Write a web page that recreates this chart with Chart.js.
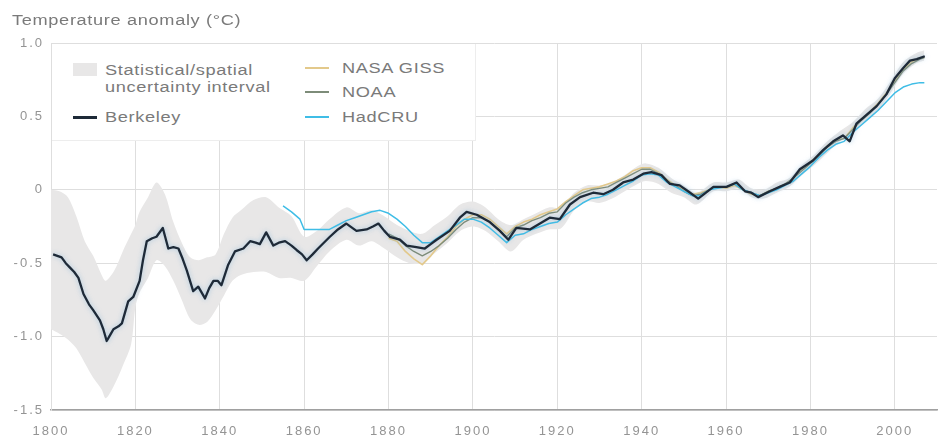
<!DOCTYPE html>
<html>
<head>
<meta charset="utf-8">
<script src="https://cdn.jsdelivr.net/npm/chart.js@4.4.1/dist/chart.umd.min.js"></script>
<style>
  html, body { margin: 0; padding: 0; background: #fff; }
  #wrap { position: relative; width: 946px; height: 438px; font-family: "Liberation Sans", Arial, sans-serif; color: #7a7a7a; }
  #chart { position: absolute; left: 0; top: 0; }
  .txt { position: absolute; white-space: nowrap; font-size: 14px; line-height: 16px; height: 16px;
         letter-spacing: 0.5px; transform: scaleX(1.3); transform-origin: 0 50%; }
  #title { left: 12px; top: 12px; }
  #legend { position: absolute; left: 52px; top: 44px; width: 423px; height: 96px; background: #fff;
            border-right: 1px solid #ededed; border-bottom: 1px solid #ededed; }
  .swatch { position: absolute; }
</style>
</head>
<body>
<div id="wrap">
  <canvas id="chart" width="946" height="438"></canvas>
  <div id="title" class="txt">Temperature anomaly (°C)</div>
  <div id="legend">
    <div class="swatch" style="left:21px;top:19px;width:24px;height:13px;background:#e8e7e7;"></div>
    <div class="txt" style="left:53px;top:18px;">Statistical/spatial</div>
    <div class="txt" style="left:53px;top:35px;">uncertainty interval</div>
    <div class="swatch" style="left:21px;top:72px;width:24px;height:2.5px;background:#1e2a38;"></div>
    <div class="txt" style="left:53px;top:65px;">Berkeley</div>
    <div class="swatch" style="left:253px;top:23px;width:24px;height:1.5px;background:#e3c98b;"></div>
    <div class="txt" style="left:290px;top:16px;">NASA GISS</div>
    <div class="swatch" style="left:253px;top:47px;width:24px;height:1.5px;background:#7d8c79;"></div>
    <div class="txt" style="left:290px;top:40px;">NOAA</div>
    <div class="swatch" style="left:253px;top:72px;width:24px;height:1.5px;background:#3fbde6;"></div>
    <div class="txt" style="left:290px;top:65px;">HadCRU</div>
  </div>
</div>
<script>
// Axis ticks
const yearTicks = [1800, 1820, 1840, 1860, 1880, 1900, 1920, 1940, 1960, 1980, 2000];
const tempTicks = [-1.5, -1.0, -0.5, 0, 0.5, 1.0];

// Berkeley land temperature, 10-year moving average (°C anomaly)
const berkeleyYears = [1800.5,1801.5,1802.5,1803.5,1804.5,1805.5,1806.5,1807.7,1809,1810,1811.6,1812.4,1813.2,1814,1814.8,1816,1816.8,1817.5,1818.3,1819.5,1821,1821.8,1822.7,1824,1825,1826.5,1827.8,1829,1830.2,1831.2,1832.2,1833.7,1834.9,1836.5,1837.5,1838.5,1839.5,1840.4,1841.2,1842,1843.6,1845.6,1847.2,1848.5,1849.5,1851,1852.7,1854,1855.5,1857,1858.2,1859.5,1860.6,1862,1863.3,1866.1,1868,1870,1872.4,1874.8,1876.3,1877.6,1879,1880.3,1882.7,1884.3,1886.6,1888.6,1890,1891.4,1894.5,1896.9,1898.5,1900.9,1904,1906.4,1908.4,1910.3,1913.5,1915.9,1918.2,1920.6,1923,1925.4,1928.5,1930.9,1933.2,1935.6,1938,1940.4,1942.3,1944.7,1946.7,1949,1951,1953.4,1957,1960.1,1962.5,1964.5,1966,1967.6,1970.4,1972.7,1975.1,1977.5,1980.6,1983,1985.4,1987.7,1989.3,1990.9,1993.3,1995.7,1998,2000,2002,2003.6,2005.2,2007.1];
const berkeleyTemps = [-0.44,-0.45,-0.46,-0.50,-0.53,-0.56,-0.60,-0.71,-0.78,-0.82,-0.89,-0.95,-1.03,-0.99,-0.95,-0.93,-0.91,-0.84,-0.76,-0.73,-0.62,-0.48,-0.35,-0.33,-0.32,-0.26,-0.40,-0.39,-0.40,-0.47,-0.55,-0.69,-0.66,-0.74,-0.67,-0.62,-0.62,-0.65,-0.58,-0.51,-0.42,-0.40,-0.35,-0.36,-0.37,-0.29,-0.38,-0.36,-0.35,-0.38,-0.41,-0.44,-0.48,-0.44,-0.40,-0.32,-0.27,-0.23,-0.28,-0.27,-0.25,-0.23,-0.28,-0.32,-0.34,-0.38,-0.39,-0.40,-0.37,-0.34,-0.28,-0.19,-0.15,-0.17,-0.22,-0.28,-0.34,-0.26,-0.27,-0.23,-0.19,-0.20,-0.10,-0.05,-0.02,-0.03,0.00,0.05,0.07,0.11,0.12,0.10,0.04,0.03,-0.01,-0.06,0.02,0.02,0.05,-0.01,-0.02,-0.05,-0.01,0.02,0.05,0.14,0.20,0.27,0.33,0.37,0.33,0.45,0.51,0.57,0.65,0.76,0.83,0.88,0.89,0.91];

// Statistical/spatial uncertainty interval around the Berkeley series
const bandYears = [1800,1802,1804,1806,1808,1810,1812,1813,1815,1817,1819,1820,1821,1823,1825,1827,1829,1831,1833,1835,1837,1839,1841,1843,1845,1848,1851,1854,1857,1860,1863,1866,1870,1873,1876,1879,1882,1885,1888,1891,1894,1897,1900,1903,1906,1909,1912,1915,1918,1921,1924,1927,1930,1933,1936,1939,1941,1944,1947,1950,1953,1957,1960,1963,1966,1969,1972,1975,1978,1981,1984,1987,1990,1993,1996,1999,2002,2005,2007];
const bandUpper = [0.00,-0.01,-0.05,-0.18,-0.35,-0.45,-0.58,-0.62,-0.55,-0.42,-0.30,-0.24,-0.15,-0.05,0.05,-0.03,-0.22,-0.36,-0.46,-0.48,-0.46,-0.44,-0.30,-0.19,-0.14,-0.07,-0.05,-0.12,-0.18,-0.32,-0.28,-0.20,-0.12,-0.16,-0.14,-0.18,-0.24,-0.28,-0.30,-0.24,-0.18,-0.10,-0.08,-0.12,-0.20,-0.24,-0.20,-0.16,-0.12,-0.12,-0.02,0.03,0.03,0.05,0.10,0.16,0.18,0.15,0.08,0.03,-0.02,0.05,0.05,0.07,0.01,0.00,0.05,0.08,0.17,0.24,0.33,0.40,0.46,0.55,0.62,0.74,0.87,0.93,0.95];
const bandLower = [-0.95,-0.98,-1.02,-1.08,-1.18,-1.28,-1.36,-1.42,-1.33,-1.20,-1.05,-0.80,-0.70,-0.60,-0.48,-0.52,-0.62,-0.75,-0.88,-0.92,-0.90,-0.82,-0.72,-0.62,-0.58,-0.56,-0.56,-0.60,-0.60,-0.62,-0.52,-0.42,-0.34,-0.38,-0.35,-0.40,-0.46,-0.50,-0.50,-0.43,-0.36,-0.28,-0.25,-0.28,-0.35,-0.42,-0.34,-0.30,-0.27,-0.26,-0.14,-0.08,-0.09,-0.06,-0.01,0.04,0.06,0.04,-0.02,-0.05,-0.10,-0.01,-0.01,0.01,-0.05,-0.06,-0.02,0.02,0.10,0.17,0.25,0.33,0.38,0.47,0.54,0.66,0.79,0.86,0.88];

// NASA GISS and NOAA records (from 1880)
const globalYears = [1880,1882,1884,1886,1888,1890,1892,1894,1896,1898,1900,1902,1904,1906,1908,1910,1912,1914,1916,1918,1920,1922,1924,1926,1928,1930,1932,1934,1936,1938,1940,1942,1944,1946,1948,1950,1952,1954,1956,1958,1960,1962,1964,1966,1968,1970,1972,1974,1976,1978,1980,1982,1984,1986,1988,1990,1992,1994,1996,1998,2000,2002,2004,2006,2007];
const nasaTemps = [-0.33,-0.35,-0.42,-0.47,-0.51,-0.45,-0.38,-0.32,-0.25,-0.20,-0.17,-0.17,-0.20,-0.25,-0.30,-0.25,-0.22,-0.20,-0.17,-0.15,-0.13,-0.08,-0.04,0.00,0.01,0.02,0.04,0.06,0.09,0.13,0.15,0.15,0.12,0.07,0.03,0.00,-0.03,-0.02,0.00,0.02,0.01,0.03,0.00,-0.03,-0.04,-0.01,0.01,0.04,0.08,0.14,0.19,0.24,0.30,0.34,0.35,0.42,0.48,0.53,0.59,0.66,0.74,0.82,0.87,0.90,0.90];
const noaaTemps = [-0.30,-0.33,-0.38,-0.42,-0.45,-0.42,-0.38,-0.33,-0.27,-0.22,-0.19,-0.19,-0.22,-0.27,-0.32,-0.26,-0.24,-0.21,-0.19,-0.16,-0.15,-0.09,-0.05,-0.02,0.00,0.01,0.02,0.05,0.08,0.11,0.14,0.14,0.11,0.06,0.03,-0.01,-0.04,-0.03,0.00,0.02,0.02,0.04,0.00,-0.02,-0.04,-0.01,0.01,0.04,0.08,0.13,0.18,0.23,0.29,0.33,0.35,0.41,0.47,0.52,0.58,0.65,0.73,0.81,0.86,0.89,0.90];

// HadCRU record (from 1855)
const hadcruYears = [1855,1857,1859,1860,1862,1864,1866,1868,1870,1872,1874,1876,1878,1880,1882,1884,1886,1888,1890,1892,1894,1896,1898,1900,1902,1904,1906,1908,1910,1912,1914,1916,1918,1920,1922,1924,1926,1928,1930,1932,1934,1936,1938,1940,1942,1944,1946,1948,1950,1952,1954,1956,1958,1960,1962,1964,1966,1968,1970,1972,1974,1976,1978,1980,1982,1984,1986,1988,1990,1992,1994,1996,1998,2000,2002,2004,2006,2007];
const hadcruTemps = [-0.11,-0.15,-0.20,-0.27,-0.27,-0.27,-0.27,-0.24,-0.21,-0.19,-0.17,-0.15,-0.14,-0.16,-0.20,-0.25,-0.31,-0.36,-0.36,-0.32,-0.28,-0.24,-0.20,-0.20,-0.22,-0.26,-0.31,-0.36,-0.31,-0.30,-0.27,-0.25,-0.23,-0.22,-0.17,-0.13,-0.09,-0.06,-0.05,-0.03,0.00,0.03,0.06,0.10,0.11,0.10,0.05,0.02,-0.01,-0.04,-0.04,0.00,0.01,0.02,0.04,0.00,-0.02,-0.04,-0.02,0.00,0.03,0.06,0.11,0.16,0.22,0.27,0.31,0.33,0.39,0.44,0.49,0.54,0.60,0.66,0.70,0.72,0.73,0.73];

const pairs = (xs, ys) => xs.map((x, i) => ({ x: x, y: ys[i] }));

// Wider tracking for the canvas tick labels
const tracking = {
  id: 'tracking',
  beforeLayout(chart) { chart.ctx.letterSpacing = '2px'; },
  beforeDraw(chart) { chart.ctx.letterSpacing = '2px'; }
};

// Soft bluish glow under the Berkeley line
const glow = {
  id: 'glow',
  beforeDatasetDraw(chart, args) {
    if (args.meta.label === 'Berkeley') {
      chart.ctx.save();
      chart.ctx.shadowColor = 'rgba(120,175,215,0.6)';
      chart.ctx.shadowBlur = 5;
    }
  },
  afterDatasetDraw(chart, args) {
    if (args.meta.label === 'Berkeley') chart.ctx.restore();
  }
};

const lineStyle = { pointRadius: 0, tension: 0, fill: false, borderJoinStyle: 'round' };

new Chart(document.getElementById('chart'), {
  type: 'line',
  data: {
    datasets: [
      Object.assign({ label: 'Berkeley', data: pairs(berkeleyYears, berkeleyTemps), borderColor: '#1e2a38', borderWidth: 2.3 }, lineStyle),
      Object.assign({ label: 'HadCRU', data: pairs(hadcruYears, hadcruTemps), borderColor: '#3fbde6', borderWidth: 1.5 }, lineStyle),
      Object.assign({ label: 'NOAA', data: pairs(globalYears, noaaTemps), borderColor: '#7d8c79', borderWidth: 1.4 }, lineStyle),
      Object.assign({ label: 'NASA GISS', data: pairs(globalYears, nasaTemps), borderColor: '#e3c98b', borderWidth: 1.6 }, lineStyle),
      { label: 'Uncertainty low', data: pairs(bandYears, bandLower), borderWidth: 0, borderColor: 'rgba(0,0,0,0)', pointRadius: 0, tension: 0.3, fill: false },
      { label: 'Uncertainty high', data: pairs(bandYears, bandUpper), borderWidth: 0, borderColor: 'rgba(0,0,0,0)', pointRadius: 0, tension: 0.3,
        fill: '-1', backgroundColor: '#e8e7e7' }
    ]
  },
  options: {
    responsive: false,
    animation: false,
    layout: { padding: { top: 43, right: 9, left: 0, bottom: 0 } },
    plugins: { legend: { display: false }, tooltip: { enabled: false }, title: { display: false } },
    scales: {
      x: {
        type: 'linear',
        min: 1800, max: 2010,
        afterFit(scale) { scale.height = 28; },
        afterBuildTicks(scale) { scale.ticks = yearTicks.map(v => ({ value: v })); },
        ticks: { color: '#949494', font: { family: 'Liberation Sans', size: 13 }, padding: 14, maxRotation: 0,
                 callback: v => String(v) },
        grid: { color: '#dedede', lineWidth: 1, drawTicks: false },
        border: { color: '#a0a0a0', width: 1.5 }
      },
      y: {
        type: 'linear',
        min: -1.5, max: 1.0,
        afterFit(scale) { scale.width = 51; },
        afterBuildTicks(scale) { scale.ticks = tempTicks.map(v => ({ value: v })); },
        ticks: { color: '#949494', font: { family: 'Liberation Sans', size: 13 }, padding: 7,
                 callback: v => (v === 0 ? '0' : v.toFixed(1)) },
        grid: { color: '#dedede', lineWidth: 1, drawTicks: false },
        border: { color: '#dedede', width: 1 }
      }
    }
  },
  plugins: [tracking, glow]
});
</script>
</body>
</html>
